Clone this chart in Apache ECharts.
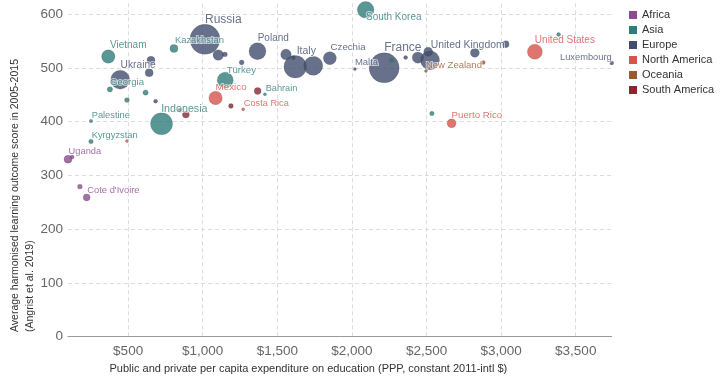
<!DOCTYPE html>
<html><head><meta charset="utf-8">
<script src="https://cdn.jsdelivr.net/npm/echarts@6/dist/echarts.min.js"></script>
<style>html,body{margin:0;padding:0;background:#fff}#c{width:722px;height:384px}</style>
</head><body><div id="c"></div>
<script>
// [country, spending per capita ($), learning score, bubble size]
const regions = ['Africa', 'Asia', 'Europe', 'North America', 'Oceania', 'South America'];
const africa = [
  ['Uganda', 97, 330, 16], ['', 125, 334, 4], ['', 177, 279, 6], ["Cote d'Ivoire", 222, 259, 12]
];
const asia = [
  ['South Korea', 2092, 608, 69], ['Vietnam', 367, 521, 45], ['Kazakhstan', 807, 536, 16],
  ['Georgia', 378, 460, 7], ['', 617, 454, 7], ['', 492, 440, 6], ['Palestine', 251, 401, 3],
  ['Kyrgyzstan', 251, 363, 5], ['Indonesia', 724, 396, 121], ['Türkey', 1151, 477, 64],
  ['Bahrain', 1417, 451, 2.3], ['', 2266, 514, 4], ['', 2536, 415, 5], ['', 3385, 562, 4]
];
const europe = [
  ['Russia', 1015, 553, 225], ['', 1104, 524, 28], ['', 1149, 525, 6], ['', 1261, 510, 6],
  ['Poland', 1367, 531, 72], ['', 1558, 525, 28], ['', 1607, 519, 4], ['Italy', 1620, 502, 128],
  ['', 1741, 504, 90], ['Czechia', 1852, 518, 42], ['Malta', 2020, 498, 2.3], ['France', 2216, 500, 225],
  ['', 2360, 519, 4], ['', 2442, 519, 32], ['', 2511, 530, 20], ['United Kingdom', 2523, 514, 90],
  ['', 2824, 528, 20], ['', 3030, 544, 12], ['Luxembourg', 3741, 509, 4], ['Ukraine', 447, 478, 90],
  ['', 653, 514, 16], ['', 641, 491, 16], ['', 684, 438, 4]
];
const northAmerica = [
  ['United States', 3226, 530, 56], ['Mexico', 1086, 444, 45], ['Costa Rica', 1271, 423, 2.3],
  ['Puerto Rico', 2668, 397, 20], ['', 492, 364, 2.3]
];
const oceania = [
  ['New Zealand', 2496, 494, 2.3], ['', 2880, 510, 4]
];
const southAmerica = [
  ['', 847, 421, 4], ['', 887, 413, 12], ['', 1189, 429, 6], ['', 1368, 457, 12]
];
const yTicks = [0, 100, 200, 300, 400, 500, 600];

const regionData = [africa, asia, europe, northAmerica, oceania, southAmerica];
const colors = ['#8C4B8E', '#2E7D79', '#424D6E', '#D6544B', '#9B5B32', '#85282F'];
// label placement: [dx, dy, fontSize, align]
const labelPlace = {
  'Russia': [0, -20, 12], 'France': [0, -20, 12], 'Italy': [1.4, -15.7, 10.5], 'Poland': [0.2, -12.6, 10],
  'Czechia': [0.7, -10.8, 9.7], 'Malta': [0, -6.3, 9.5], 'United Kingdom': [0.7, -15, 10.4],
  'New Zealand': [0, -5.5, 9.5], 'Puerto Rico': [0, -7.8, 9.7], 'United States': [0, -11.7, 10],
  'Luxembourg': [0, -5.7, 9.3, 'right'], 'Ukraine': [0.4, -14.7, 10.2], 'Georgia': [0, -7.3, 9.6],
  'Palestine': [0.7, -5.3, 9.3], 'Kyrgyzstan': [0.7, -5.7, 9.3], 'Uganda': [0.6, -7.8, 9.3],
  "Cote d'Ivoire": [0.6, -6.8, 9.4], 'Indonesia': [-0.4, -14.7, 10.7], 'Türkey': [1.4, -10, 9.6],
  'Mexico': [0, -11, 9.8], 'Bahrain': [0.7, -6, 9.2], 'Costa Rica': [0.7, -6, 9.2],
  'South Korea': [0.3, 7.2, 10], 'Vietnam': [1.7, -11.2, 10], 'Kazakhstan': [1, -7.8, 9.4]
};
const FONT = '"Liberation Sans", Arial, Helvetica, sans-serif';

const order = [2, 0, 1, 3, 4, 5];
const series = order.map(function (i) {
  const rows = regionData[i].slice().sort(function (a, b) { return b[3] - a[3]; });
  return {
    name: regions[i], type: 'scatter', z: 2,
    itemStyle: { color: colors[i], opacity: 0.8, borderColor: 'rgba(40,40,40,0.4)', borderWidth: 0.5 },
    emphasis: { disabled: true },
    symbolSize: function (v) { return 2 * Math.sqrt(v[2]); },
    data: rows.map(function (r) { return { name: r[0], value: [r[1], r[2], r[3]] }; })
  };
});

// label layer drawn above every bubble
const labelItems = [];
regionData.forEach(function (rows, i) {
  rows.forEach(function (r) {
    const lp = labelPlace[r[0]];
    if (!lp) return;
    labelItems.push({
      name: r[0], value: [r[1], r[2]],
      label: {
        show: true, formatter: '{b}', position: ['50%', '50%'], offset: [lp[0], lp[1]],
        align: lp[3] || 'left', verticalAlign: 'middle', fontSize: lp[2], fontFamily: FONT,
        color: colors[i], textBorderColor: 'rgba(255,255,255,0.75)', textBorderWidth: 2
      }
    });
  });
});
series.push({
  name: 'labels', type: 'scatter', z: 5, silent: true, symbolSize: 1,
  itemStyle: { color: 'rgba(0,0,0,0)', borderWidth: 0 }, emphasis: { disabled: true }, data: labelItems
});

const chart = echarts.init(document.getElementById('c'));
chart.setOption({
  animation: false,
  textStyle: { fontFamily: FONT },
  grid: { left: 68, right: 110.3, top: 3.3, bottom: 47.3 },
  legend: {
    orient: 'vertical', left: 629, top: 9, padding: 0, itemWidth: 8, itemHeight: 8, itemGap: 3,
    icon: 'rect', data: regions,
    textStyle: { fontSize: 11, color: '#333', fontFamily: FONT, lineHeight: 12 },
    itemStyle: { opacity: 1, borderWidth: 0 }
  },
  xAxis: {
    type: 'value', min: 97, max: 3741, splitNumber: 7, minInterval: 500, maxInterval: 500,
    name: 'Public and private per capita expenditure on education (PPP, constant 2011-intl $)',
    nameLocation: 'middle', nameGap: 27,
    nameTextStyle: { fontSize: 11, color: '#333', fontFamily: FONT, padding: [0, 63, 0, 0] },
    axisLine: { show: true, lineStyle: { color: '#9a9a9a' } },
    axisTick: { show: false },
    axisLabel: {
      margin: 8, fontSize: 13.5, color: '#666', fontFamily: FONT, showMinLabel: false, showMaxLabel: false,
      formatter: function (v) { return '$' + v.toLocaleString('en-US'); }
    },
    splitLine: { show: true, showMinLine: false, showMaxLine: false, lineStyle: { color: '#dcdcdc', type: [4, 3] } }
  },
  yAxis: {
    type: 'value', min: yTicks[0], max: 620, interval: 100,
    axisLine: { show: false }, axisTick: { show: false },
    axisLabel: {
      margin: 5, fontSize: 13.5, color: '#666', fontFamily: FONT, showMaxLabel: false,
      formatter: function (v) { return yTicks.indexOf(v) >= 0 ? String(v) : ''; }
    },
    splitLine: { show: true, showMinLine: false, showMaxLine: false, lineStyle: { color: '#dcdcdc', type: [4, 3] } }
  },
  graphic: [{
    type: 'text', x: 8, y: 332, rotation: Math.PI / 2,
    style: {
      text: 'Average harmonised learning outcome score in 2005-2015\n(Angrist et al. 2019)',
      fontSize: 10.5, fontFamily: FONT, fill: '#333', align: 'left', verticalAlign: 'top', lineHeight: 14.5
    }
  }],
  series: series
});
</script>
</body></html>
